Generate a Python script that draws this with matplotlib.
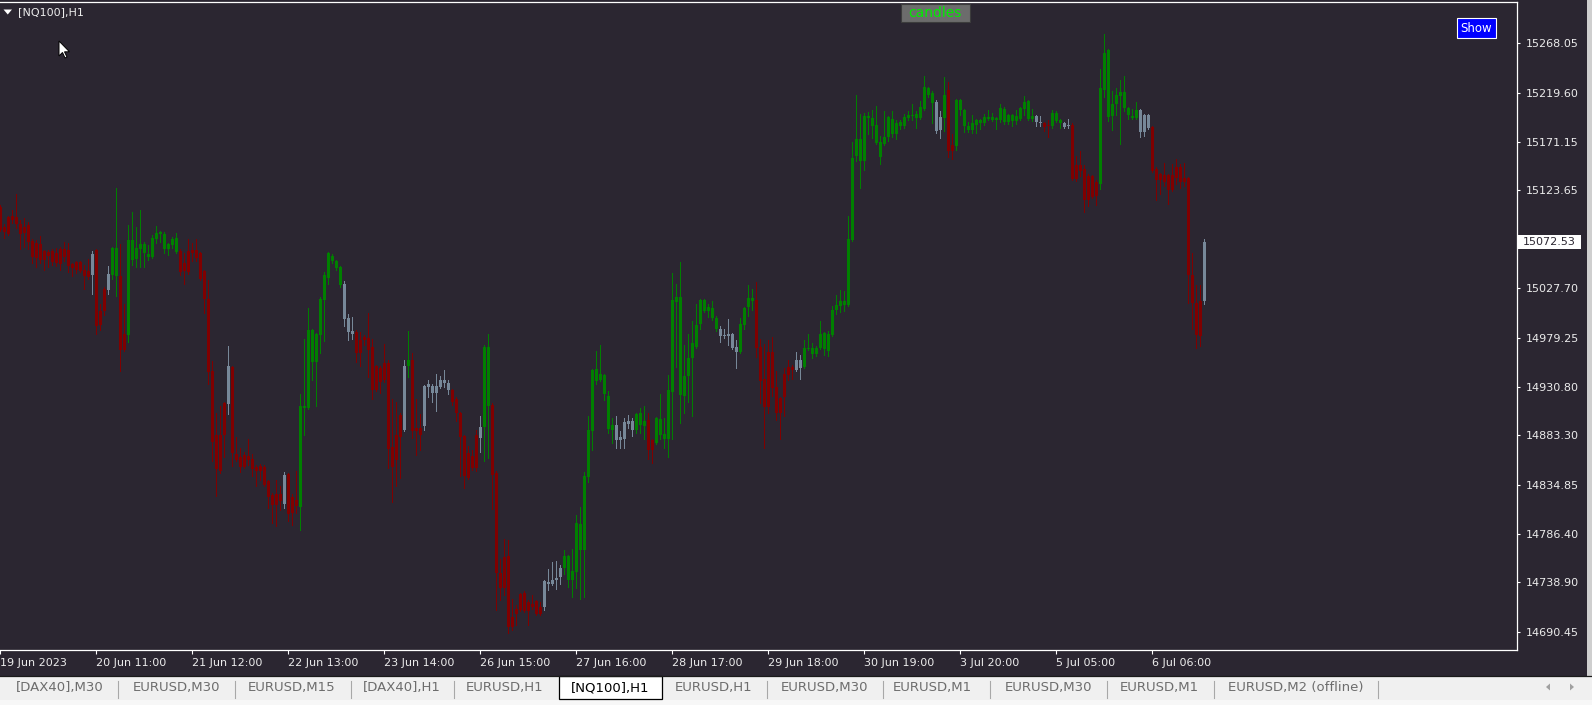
import matplotlib
matplotlib.use('Agg')
import matplotlib.pyplot as plt
from matplotlib.patches import Rectangle, Polygon

# [NQ100] H1 candles, 19 Jun - 6 Jul 2023
highs = [
    15109, 15091, 15099, 15104, 15120, 15095, 15097, 15093, 15076, 15075, 15079, 15065,
    15065, 15066, 15067, 15068, 15073, 15072, 15052, 15054, 15054, 15050, 15056, 15064,
    15066, 15012, 15029, 15049, 15068, 15126, 15071, 15012, 15090, 15102, 15088, 15104,
    15073, 15070, 15080, 15089, 15084, 15083, 15072, 15078, 15082, 15066, 15062, 15076,
    15072, 15076, 15063, 15046, 15036, 14956, 14905, 14912, 14916, 14971, 14951, 14882,
    14871, 14867, 14880, 14865, 14854, 14855, 14854, 14839, 14827, 14839, 14833, 14847,
    14846, 14826, 14848, 14924, 14978, 15008, 14988, 14984, 15019, 15044, 15063, 15061,
    15055, 15049, 15035, 15002, 14999, 14987, 14985, 14982, 15003, 14978, 14952, 14951,
    14973, 14957, 14919, 14916, 14905, 14957, 14986, 14964, 14919, 14904, 14933, 14938,
    14934, 14943, 14941, 14947, 14938, 14929, 14921, 14906, 14884, 14873, 14869, 14888,
    14902, 14972, 14983, 14915, 14848, 14762, 14781, 14780, 14723, 14717, 14728, 14730,
    14722, 14726, 14722, 14720, 14741, 14752, 14759, 14760, 14756, 14771, 14766, 14772,
    14805, 14813, 14847, 14902, 14948, 14966, 14972, 14943, 14927, 14900, 14902, 14887,
    14900, 14903, 14900, 14905, 14910, 14912, 14905, 14880, 14901, 14924, 14900, 14942,
    15043, 15032, 15053, 14972, 14983, 14995, 15012, 15017, 15017, 15012, 15015, 15000,
    14991, 14988, 14997, 14984, 14977, 14998, 15009, 15031, 15027, 15034, 14978, 14973,
    14977, 14980, 14946, 14921, 14949, 14957, 14952, 14965, 14962, 14977, 14983, 14974,
    14971, 14995, 14985, 14986, 15010, 15021, 15026, 15025, 15099, 15171, 15217, 15199,
    15200, 15201, 15203, 15207, 15177, 15202, 15197, 15202, 15193, 15193, 15199, 15202,
    15208, 15202, 15211, 15236, 15225, 15221, 15212, 15202, 15235, 15230, 15179, 15213,
    15213, 15204, 15191, 15198, 15194, 15194, 15199, 15203, 15200, 15196, 15208, 15206,
    15199, 15199, 15203, 15206, 15216, 15212, 15204, 15198, 15197, 15191, 15193, 15203,
    15202, 15194, 15191, 15194, 15190, 15157, 15162, 15149, 15140, 15139, 15134, 15243,
    15277, 15262, 15221, 15224, 15232, 15236, 15206, 15204, 15210, 15204, 15199, 15199,
    15187, 15147, 15141, 15151, 15140, 15150, 15154, 15150, 15151, 15137, 15062, 15031,
    15031, 15076,
]
lows = [
    15084, 15077, 15080, 15092, 15087, 15066, 15068, 15066, 15052, 15048, 15052, 15046,
    15048, 15050, 15049, 15046, 15054, 15044, 15040, 15043, 15044, 15027, 15037, 15022,
    14983, 14987, 15001, 15022, 15037, 15020, 14946, 14966, 14975, 15050, 15048, 15048,
    15048, 15055, 15057, 15072, 15073, 15062, 15060, 15067, 15062, 15041, 15032, 15042,
    15054, 15054, 15036, 15003, 14934, 14858, 14824, 14846, 14862, 14904, 14853, 14858,
    14847, 14851, 14854, 14843, 14833, 14839, 14833, 14812, 14797, 14794, 14810, 14812,
    14799, 14795, 14807, 14790, 14884, 14909, 14938, 14912, 14964, 14976, 15032, 15052,
    15046, 15029, 14991, 14977, 14978, 14955, 14951, 14972, 14940, 14919, 14927, 14925,
    14936, 14851, 14818, 14833, 14841, 14887, 14940, 14881, 14864, 14869, 14888, 14921,
    14916, 14907, 14930, 14931, 14924, 14913, 14897, 14843, 14832, 14840, 14849, 14848,
    14867, 14858, 14861, 14811, 14712, 14722, 14726, 14689, 14692, 14697, 14711, 14710,
    14697, 14713, 14707, 14707, 14712, 14731, 14736, 14732, 14737, 14747, 14734, 14725,
    14733, 14723, 14725, 14837, 14869, 14934, 14937, 14918, 14886, 14876, 14871, 14871,
    14871, 14890, 14883, 14886, 14886, 14880, 14860, 14856, 14875, 14880, 14871, 14862,
    14880, 14950, 14895, 14905, 14916, 14902, 14969, 14988, 15004, 14999, 14996, 14986,
    14975, 14979, 14972, 14968, 14949, 14964, 14988, 15000, 15006, 14960, 14915, 14871,
    14905, 14922, 14898, 14880, 14902, 14938, 14939, 14946, 14939, 14949, 14967, 14959,
    14961, 14968, 14962, 14961, 14981, 15002, 15004, 15005, 15010, 15074, 15153, 15126,
    15144, 15179, 15175, 15169, 15150, 15168, 15172, 15176, 15174, 15184, 15185, 15193,
    15193, 15185, 15194, 15203, 15215, 15190, 15180, 15175, 15182, 15156, 15154, 15163,
    15198, 15181, 15181, 15180, 15180, 15184, 15188, 15193, 15192, 15184, 15191, 15189,
    15189, 15187, 15189, 15193, 15198, 15193, 15192, 15187, 15187, 15182, 15176, 15185,
    15191, 15185, 15185, 15185, 15134, 15133, 15138, 15102, 15108, 15116, 15109, 15125,
    15215, 15192, 15183, 15198, 15169, 15202, 15194, 15194, 15194, 15176, 15177, 15184,
    15142, 15114, 15120, 15128, 15110, 15123, 15130, 15126, 15128, 15013, 14988, 14969,
    14971, 15012,
]
opens = [
    15107, 15088, 15098, 15099, 15098, 15091, 15088, 15090, 15074, 15072, 15071, 15064,
    15063, 15064, 15062, 15066, 15066, 15065, 15051, 15053, 15053, 15046, 15045, 15041,
    15065, 15005, 15027, 15026, 15041, 15040, 15040, 14983, 14982, 15055, 15056, 15066,
    15062, 15058, 15058, 15076, 15081, 15066, 15066, 15070, 15063, 15064, 15052, 15064,
    15065, 15065, 15062, 15045, 15017, 14946, 14884, 14884, 14915, 14914, 14950, 14865,
    14862, 14864, 14863, 14860, 14852, 14853, 14852, 14838, 14825, 14826, 14826, 14816,
    14845, 14823, 14820, 14813, 14910, 14910, 14955, 14955, 14982, 15016, 15038, 15054,
    15047, 15031, 14997, 14985, 14983, 14985, 14977, 14980, 14979, 14970, 14951, 14949,
    14954, 14954, 14872, 14884, 14903, 14888, 14951, 14957, 14890, 14890, 14892, 14931,
    14925, 14925, 14931, 14935, 14928, 14928, 14919, 14905, 14883, 14866, 14863, 14884,
    14881, 14891, 14912, 14913, 14846, 14748, 14764, 14765, 14705, 14713, 14727, 14728,
    14720, 14718, 14721, 14715, 14715, 14737, 14737, 14741, 14744, 14753, 14741, 14741,
    14749, 14771, 14771, 14842, 14887, 14937, 14938, 14924, 14889, 14888, 14879, 14879,
    14880, 14894, 14888, 14888, 14893, 14892, 14898, 14879, 14876, 14884, 14880, 14880,
    14926, 15014, 14923, 14922, 14941, 14959, 14970, 14993, 15005, 15005, 14998, 14988,
    14981, 14981, 14981, 14969, 14965, 14965, 14992, 15009, 15015, 15016, 14970, 14939,
    14965, 14965, 14931, 14920, 14943, 14950, 14950, 14947, 14949, 14950, 14968, 14963,
    14963, 14969, 14968, 14966, 14982, 15006, 15010, 15011, 15011, 15075, 15157, 15153,
    15153, 15195, 15187, 15170, 15156, 15169, 15176, 15179, 15179, 15187, 15187, 15195,
    15197, 15195, 15195, 15204, 15217, 15209, 15182, 15183, 15195, 15222, 15168, 15167,
    15203, 15187, 15183, 15183, 15188, 15190, 15190, 15194, 15193, 15193, 15193, 15191,
    15191, 15192, 15192, 15194, 15204, 15194, 15194, 15191, 15190, 15190, 15188, 15187,
    15192, 15190, 15186, 15187, 15188, 15149, 15149, 15145, 15138, 15138, 15132, 15130,
    15222, 15196, 15197, 15208, 15216, 15205, 15198, 15195, 15195, 15181, 15181, 15185,
    15186, 15145, 15140, 15139, 15139, 15139, 15147, 15147, 15136, 15136, 15041, 15013,
    15015, 15015,
]
closes = [
    15085, 15083, 15081, 15095, 15091, 15081, 15082, 15073, 15058, 15057, 15055, 15055,
    15059, 15053, 15052, 15051, 15058, 15049, 15047, 15046, 15045, 15040, 15039, 15061,
    14991, 14992, 15005, 15042, 15067, 15067, 14967, 14967, 15075, 15075, 15067, 15071,
    15071, 15061, 15077, 15082, 15083, 15081, 15071, 15076, 15077, 15044, 15045, 15044,
    15062, 15057, 15037, 15017, 14945, 14877, 14850, 14848, 14884, 14951, 14866, 14859,
    14852, 14852, 14859, 14850, 14848, 14848, 14834, 14823, 14815, 14815, 14819, 14844,
    14806, 14807, 14814, 14912, 14912, 14987, 14987, 14983, 15017, 15041, 15062, 15059,
    15054, 15048, 15032, 14998, 14986, 14964, 14964, 14977, 14967, 14928, 14928, 14936,
    14938, 14870, 14852, 14859, 14882, 14951, 14957, 14887, 14887, 14884, 14932, 14934,
    14932, 14932, 14938, 14938, 14935, 14916, 14905, 14882, 14843, 14841, 14851, 14851,
    14891, 14970, 14970, 14844, 14748, 14733, 14733, 14695, 14695, 14708, 14712, 14711,
    14711, 14715, 14708, 14708, 14740, 14739, 14741, 14743, 14753, 14765, 14765, 14750,
    14797, 14796, 14843, 14888, 14947, 14948, 14943, 14942, 14922, 14893, 14893, 14882,
    14896, 14897, 14897, 14904, 14905, 14897, 14869, 14869, 14900, 14899, 14885, 14928,
    15016, 15019, 15019, 14941, 14959, 14974, 14992, 15016, 15016, 15009, 15008, 14998,
    14988, 14982, 14983, 14983, 14970, 14993, 15008, 15018, 15018, 14969, 14937, 14911,
    14911, 14930, 14905, 14905, 14921, 14942, 14947, 14957, 14957, 14969, 14969, 14969,
    14969, 14983, 14984, 14983, 15006, 15011, 15015, 15015, 15076, 15155, 15174, 15174,
    15197, 15197, 15195, 15188, 15171, 15176, 15196, 15194, 15190, 15191, 15196, 15198,
    15198, 15199, 15206, 15225, 15224, 15219, 15210, 15196, 15217, 15162, 15162, 15212,
    15212, 15203, 15187, 15190, 15193, 15193, 15196, 15196, 15196, 15195, 15205, 15204,
    15198, 15198, 15197, 15205, 15210, 15211, 15197, 15197, 15191, 15186, 15187, 15200,
    15200, 15193, 15190, 15188, 15135, 15135, 15143, 15114, 15114, 15117, 15118, 15224,
    15259, 15261, 15208, 15217, 15220, 15220, 15205, 15197, 15203, 15203, 15198, 15198,
    15143, 15134, 15134, 15132, 15124, 15124, 15136, 15132, 15132, 15041, 15013, 14982,
    14981, 15072.53,
]
# candle colour state: u = up (green), d = down (red), n = neutral (grey)
trend_runs = [
    ('d', 23), ('n', 1), ('d', 3), ('n', 1), ('u', 2), ('d', 2), ('u', 13), ('d', 12),
    ('n', 1), ('d', 13), ('n', 1), ('d', 3), ('u', 11), ('n', 3), ('d', 12), ('n', 1),
    ('u', 1), ('d', 3), ('n', 7), ('d', 7), ('n', 1), ('u', 2), ('d', 13), ('n', 5),
    ('u', 13), ('n', 5), ('u', 3), ('d', 2), ('u', 16), ('n', 5), ('u', 4), ('d', 10),
    ('n', 2), ('u', 33), ('n', 2), ('u', 1), ('d', 2), ('u', 20), ('n', 2), ('d', 2),
    ('u', 3), ('n', 2), ('d', 7), ('u', 10), ('n', 3), ('d', 13), ('n', 1),
]

time_tick_bars = [0, 24, 48, 72, 96, 120, 144, 168, 192, 216, 240, 264, 288]
time_labels = ['19 Jun 2023', '20 Jun 11:00', '21 Jun 12:00', '22 Jun 13:00', '23 Jun 14:00',
               '26 Jun 15:00', '27 Jun 16:00', '28 Jun 17:00', '29 Jun 18:00', '30 Jun 19:00',
               '3 Jul 20:00', '5 Jul 05:00', '6 Jul 06:00']
price_ticks = [15268.05, 15219.60, 15171.15, 15123.65, 15027.70, 14979.25,
               14930.80, 14883.30, 14834.85, 14786.40, 14738.90, 14690.45]
last_price = 15072.53
tab_names = ['[DAX40],M30', 'EURUSD,M30', 'EURUSD,M15', '[DAX40],H1', 'EURUSD,H1', '[NQ100],H1',
             'EURUSD,H1', 'EURUSD,M30', 'EURUSD,M1', 'EURUSD,M30', 'EURUSD,M1', 'EURUSD,M2 (offline)']
active_tab = '[NQ100],H1'

BG = '#2b2631'
FG = '#ececec'
COLORS = {'u': '#008000', 'd': '#800000', 'n': '#778899'}

W, H = 1592, 705
fig = plt.figure(figsize=(W / 100, H / 100), dpi=100)
fig.patch.set_facecolor(BG)


def fx(x):
    return x / W


def fy(y):
    return 1 - y / H


# main chart area (pixel box 0..1516.7 x 2..650)
ax = fig.add_axes([0, fy(650), fx(1516.7), (650 - 2) / H])
ax.set_facecolor(BG)

trend = ''.join(c * n for c, n in trend_runs)
xs = list(range(len(closes)))
cols = [COLORS[t] for t in trend]

ax.vlines(xs, lows, highs, colors=cols, linewidth=0.72, antialiased=False)
bottoms = [min(o, c) for o, c in zip(opens, closes)]
heights = [max(abs(c - o), 1.0) for o, c in zip(opens, closes)]
ax.bar(xs, heights, bottom=bottoms, width=0.7, color=cols, linewidth=0)

ax.set_xlim(-0.075, 379.1)
ax.set_ylim(14672.5, 15308.6)

for side in ['top', 'right', 'bottom']:
    ax.spines[side].set_color('white')
    ax.spines[side].set_linewidth(0.9)
ax.spines['left'].set_visible(False)

ax.yaxis.tick_right()
ax.set_yticks(price_ticks)
ax.set_yticklabels(['%.2f' % p for p in price_ticks])
ax.tick_params(axis='y', colors='white', labelcolor=FG, length=2, width=0.8, pad=4.5, labelsize=8)

ax.set_xticks(time_tick_bars)
ax.set_xticklabels(time_labels, ha='left')
ax.tick_params(axis='x', colors='white', labelcolor=FG, length=3, width=0.8, pad=3, labelsize=8)

# current price label on the scale
fig.patches.append(Rectangle((fx(1518), fy(248.5)), fx(63), 13.5 / H, transform=fig.transFigure,
                             facecolor='white', edgecolor='none'))
fig.text(fx(1523), fy(242), '%.2f' % last_price, color='#2b2631', fontsize=8, va='center', ha='left')

# header: symbol name, indicator label, button
fig.patches.append(Polygon([(fx(3.5), fy(9.5)), (fx(12), fy(9.5)), (fx(7.75), fy(14.5))],
                           closed=True, transform=fig.transFigure, facecolor='white', edgecolor='none'))
fig.text(fx(18), fy(12.5), '[NQ100],H1', color=FG, fontsize=8, va='center', ha='left')

fig.patches.append(Rectangle((fx(901), fy(22)), fx(68.5), 18.5 / H, transform=fig.transFigure,
                             facecolor='#6c6c6c', edgecolor='#3c3c3c', linewidth=0.8))
fig.text(fx(935.2), fy(13), 'candles', color='#00ee00', fontsize=10, va='center', ha='center')

fig.patches.append(Rectangle((fx(1457), fy(37.5)), fx(38.5), 19 / H, transform=fig.transFigure,
                             facecolor='#0000ff', edgecolor='white', linewidth=0.8))
fig.text(fx(1476.2), fy(28), 'Show', color='white', fontsize=8.5, va='center', ha='center')

# mouse pointer
cur = [(0, 0), (0, 15), (3.5, 11.5), (6, 17), (8, 16), (5.5, 10.8), (10.5, 10.8)]
fig.patches.append(Polygon([(fx(59 + a), fy(41 + b)) for a, b in cur], closed=True,
                           transform=fig.transFigure, facecolor='white', edgecolor='black', linewidth=0.7))

# right window edge
fig.patches.append(Rectangle((fx(1587), fy(676)), fx(5), 676 / H, transform=fig.transFigure,
                             facecolor='#cfcfcf', edgecolor='none'))

# tab bar
fig.patches.append(Rectangle((0, 0), 1, (H - 676) / H, transform=fig.transFigure,
                             facecolor='#f0f0f0', edgecolor='none'))
fig.patches.append(Rectangle((0, 0), 1, 5 / H, transform=fig.transFigure,
                             facecolor='#f7f7f7', edgecolor='none'))
fig.lines.append(plt.Line2D([0, 1], [fy(676), fy(676)], transform=fig.transFigure,
                            color='#1a1a1a', linewidth=0.9))
tab_x = [60, 176, 292, 402, 505, 610, 714, 824, 932, 1048, 1159, 1296]
sep_x = [118, 235, 351, 454, 767, 882.5, 990, 1107, 1214, 1378]
for name, x in zip(tab_names, tab_x):
    if name == active_tab:
        fig.patches.append(Rectangle((fx(558.5), fy(699)), fx(103), 23 / H, transform=fig.transFigure,
                                     facecolor='white', edgecolor='black', linewidth=0.9))
        fig.text(fx(x), fy(688), name, color='black', fontsize=9.5, va='center', ha='center')
    else:
        fig.text(fx(x), fy(688), name, color='#6d6d6d', fontsize=9.5, va='center', ha='center')
for x in sep_x:
    fig.lines.append(plt.Line2D([fx(x), fx(x)], [fy(681), fy(698)], transform=fig.transFigure,
                                color='#a8a8a8', linewidth=0.8))
fig.patches.append(Polygon([(fx(1546), fy(687)), (fx(1550), fy(683.5)), (fx(1550), fy(690.5))],
                           closed=True, transform=fig.transFigure, facecolor='#a0a0a0', edgecolor='none'))
fig.patches.append(Polygon([(fx(1574), fy(687)), (fx(1570), fy(683.5)), (fx(1570), fy(690.5))],
                           closed=True, transform=fig.transFigure, facecolor='#a0a0a0', edgecolor='none'))

fig.savefig('out.png', dpi=100, facecolor=BG)
